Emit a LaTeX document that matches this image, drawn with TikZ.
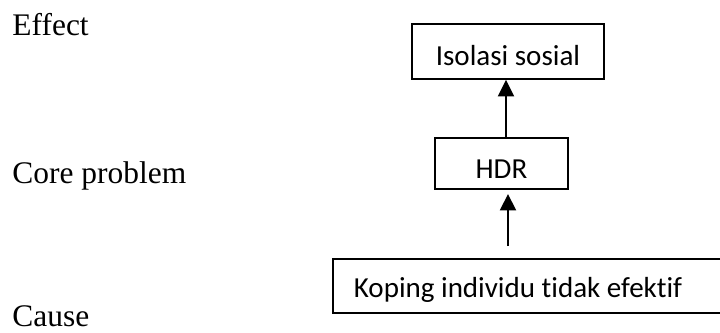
\documentclass[tikz,border=0pt]{standalone}
\usepackage{fontspec}
\setmainfont{Liberation Serif}
\newfontfamily\boxfont[Ligatures={NoCommon}]{Carlito}
\usetikzlibrary{arrows.meta}
\tikzset{
  box/.style={draw, line width=0.75pt, inner sep=0pt, text depth=0pt, font=\boxfont\fontsize{12}{14}\selectfont},
  lbl/.style={anchor=base west, inner sep=0pt, font=\fontsize{13}{15}\selectfont},
  arr/.style={line width=0.85pt, -{Triangle[length=6.8pt,width=6.6pt]}}
}
\begin{document}
\begin{tikzpicture}[x=0.4135pt,y=-0.4135pt]
\useasboundingbox (0,0) rectangle (720,333);
\node[lbl] (effect) at (12,36) {Effect};
\node[lbl] (core) at (12,184) {Core problem};
\node[lbl] (cause) at (12,327) {Cause};
\node[box, text height=11.2pt, minimum width=192*0.4135pt, minimum height=55*0.4135pt] (iso) at (508,51.5) {Isolasi sosial};
\node[box, text height=12pt, minimum width=133*0.4135pt, minimum height=51*0.4135pt] (hdr) at (501.5,163.5) {HDR};
\node[box, text height=10pt, anchor=north west, inner xsep=21*0.4135pt, minimum height=54*0.4135pt] (kop) at (332,258) {\makebox[151pt][l]{Koping individu tidak efektif}};
\coordinate (t2) at (508,246);
\coordinate (h2) at (508,194);
\draw[arr] (t2) -- (h2);
\draw[arr] (hdr.north -| 506,0) -- (iso.south -| 506,0);
\end{tikzpicture}
\end{document}
